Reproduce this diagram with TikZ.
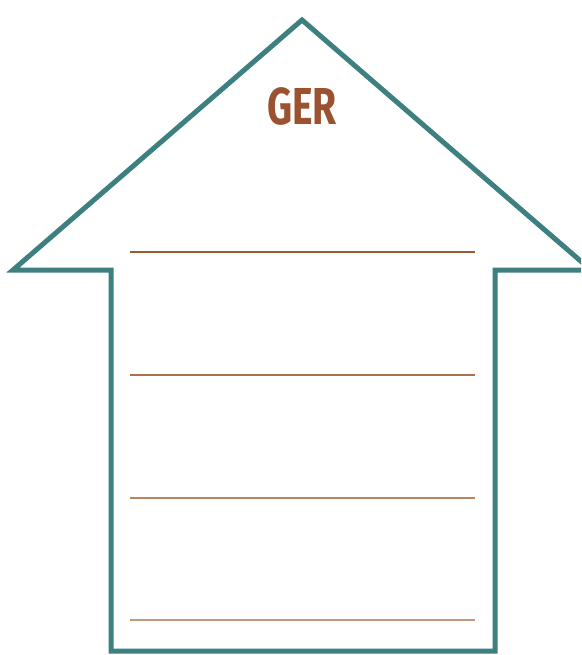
\documentclass[tikz,border=0pt]{standalone}
\usepackage{fontspec}
\setmainfont{Fira Sans}
\definecolor{teal}{HTML}{3E7F80}
\definecolor{brownA}{HTML}{9A5A36}
\definecolor{brownB}{HTML}{A8714F}
\definecolor{brownC}{HTML}{B88563}
\definecolor{brownD}{HTML}{C4977A}
\definecolor{gertext}{HTML}{9B5230}
\begin{document}
\begin{tikzpicture}[x=1pt,y=-1pt,
  outline/.style={draw=teal,line width=5pt,line join=miter},
  writeline/.style={line width=2.8pt}]
\useasboundingbox (0,0) rectangle (581,655);
\begin{scope}
\clip (0,0) rectangle (581,655);
\draw[outline] (302,20) -- (591,270) -- (495,270) -- (495,651) -- (111,651) -- (111,270) -- (13,270) -- cycle;
\end{scope}
\node (title) at (302,106) {\fontsize{52}{52}\selectfont\bfseries\color{gertext}\scalebox{0.75}[1]{GER}};
\draw[writeline,brownA] (130,252) -- (475,252);
\draw[writeline,brownB] (130,375) -- (475,375);
\draw[writeline,brownC] (130,498) -- (475,498);
\draw[writeline,brownD] (130,620) -- (475,620);
\end{tikzpicture}
\end{document}
